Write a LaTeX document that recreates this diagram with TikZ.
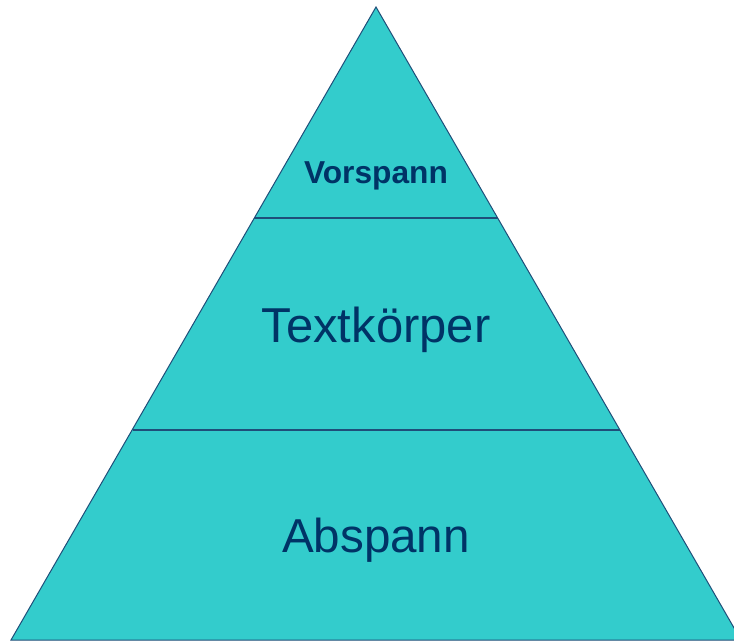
\documentclass[tikz,border=0pt]{standalone}
\usepackage{fontspec}
\setmainfont{Liberation Sans}
\usepackage{tikz}
\definecolor{pyrfill}{HTML}{33CCCC}
\definecolor{pyrline}{HTML}{1F4E79}
\definecolor{pyrtext}{HTML}{003366}
\begin{document}
\begin{tikzpicture}[x=1pt,y=-1pt,
	layer/.style={text=pyrtext,inner sep=0pt,anchor=base}]
				\useasboundingbox (0,0) rectangle (734,641);
				\draw[fill=pyrfill,draw=pyrline,line width=1pt] (376,7) -- (11,640) -- (741,640) -- cycle;
				\draw[pyrline,line width=1.5pt] (254.3,218) -- (497.7,218);
				\draw[pyrline,line width=1.5pt] (132.5,430) -- (619.5,430);
				\node[layer,font=\fontsize{31.7}{36}\selectfont\bfseries] (vorspann) at (376,183) {Vorspann};
				\node[layer,font=\fontsize{49}{56}\selectfont] (textkoerper) at (376,342) {Textkörper};
				\node[layer,font=\fontsize{47.6}{56}\selectfont] (abspann) at (376,552) {Abspann};
			\end{tikzpicture}
\end{document}
